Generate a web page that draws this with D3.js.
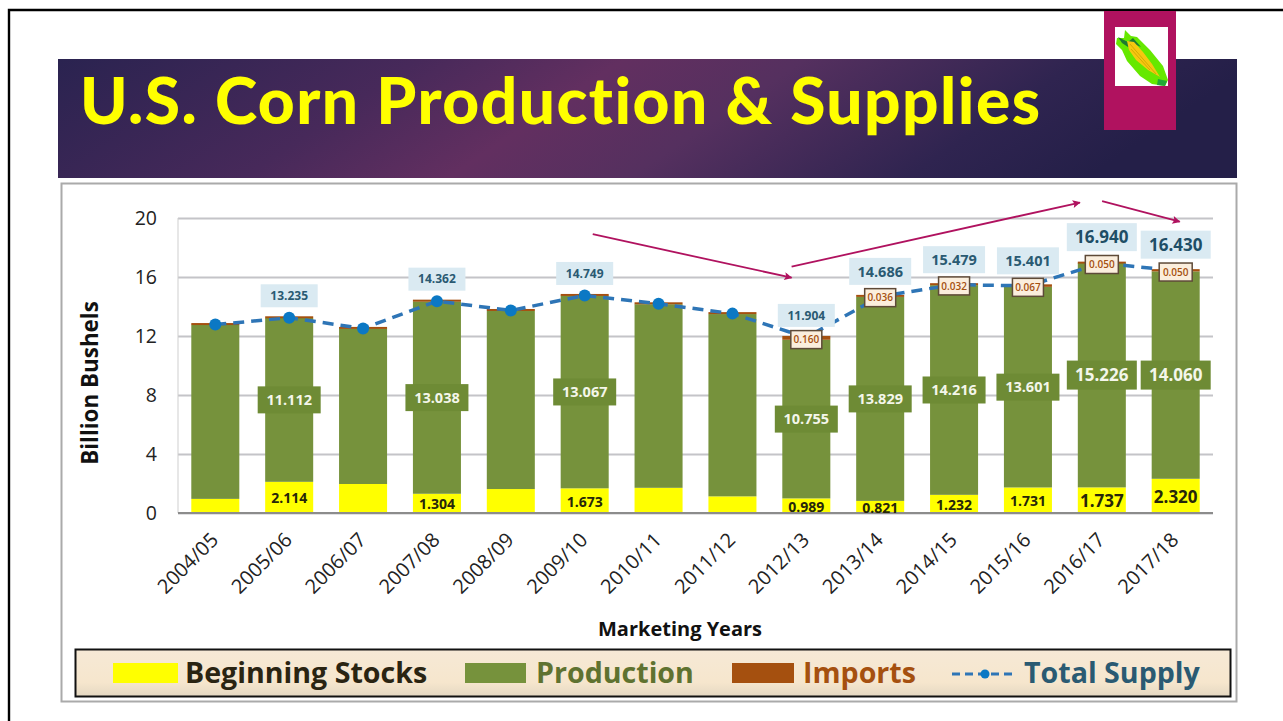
<!DOCTYPE html>
<html><head><meta charset="utf-8">
<script src="https://cdn.jsdelivr.net/npm/d3@7/dist/d3.min.js"></script>
<style>html,body{margin:0;padding:0;background:#fff;overflow:hidden}svg{display:block}text{font-family:"Open Sans",sans-serif}</style>
</head><body><svg id="c" width="1283" height="721"></svg>
<script>
const years=["2004/05","2005/06","2006/07","2007/08","2008/09","2009/10","2010/11","2011/12","2012/13","2013/14","2014/15","2015/16","2016/17","2017/18"];
const beginningStocks=[0.958,2.114,1.967,1.304,1.624,1.673,1.708,1.128,0.989,0.821,1.232,1.731,1.737,2.320];
const production=[11.807,11.112,10.535,13.038,12.092,13.067,12.447,12.360,10.755,13.829,14.216,13.601,15.226,14.060];
const imports=[0.011,0.009,0.012,0.020,0.014,0.008,0.028,0.029,0.160,0.036,0.032,0.067,0.050,0.050];
const totalSupply=[12.776,13.235,12.514,14.362,13.730,14.749,14.183,13.517,11.904,14.686,15.479,15.401,16.940,16.430];
const labelledYears=["2005/06","2007/08","2009/10","2012/13","2013/14","2014/15","2015/16","2016/17","2017/18"];
const importLabelledYears=["2012/13","2013/14","2014/15","2015/16","2016/17","2017/18"];
const yTicks=[0,4,8,12,16,20];
const seriesNames=["Beginning Stocks","Production","Imports","Total Supply"];
const title="U.S. Corn Production & Supplies";
const yTitle="Billion Bushels", xTitle="Marketing Years";
// trend arrows: [from band position, from value, to band position, to value]
const trendArrows=[[5.61,18.9,8.3,15.95],[8.3,16.7,12.2,21.05],[12.5,21.15,13.55,19.75]];

const svg=d3.select("#c");
const defs=svg.append("defs");
const hg=defs.append("linearGradient").attr("id","hdr").attr("x2",1).attr("y2",0.15);
[[0,"#2a2350"],[0.3,"#47295a"],[0.47,"#622f60"],[0.62,"#55305f"],[0.85,"#2f2450"],[1,"#241f48"]].forEach(s=>hg.append("stop").attr("offset",s[0]).attr("stop-color",s[1]));
const lg=defs.append("linearGradient").attr("id","leg").attr("x2",0).attr("y2",1);
[[0,"#f6e9d6"],[0.7,"#f6e6cd"],[1,"#e4d8c2"]].forEach(s=>lg.append("stop").attr("offset",s[0]).attr("stop-color",s[1]));
const mk=defs.append("marker").attr("id","ah").attr("viewBox","0 0 10 10").attr("refX",9).attr("refY",5)
 .attr("markerWidth",9).attr("markerHeight",8).attr("markerUnits","userSpaceOnUse").attr("orient","auto");
mk.append("path").attr("d","M0,0L10,5L0,10L2,5Z").attr("fill","#b0125f");

// slide frame
svg.append("path").attr("d","M1283,10H9V721").attr("stroke","#000").attr("stroke-width",2.4).attr("fill","none");
// header
svg.append("rect").attr("x",58).attr("y",59).attr("width",1179).attr("height",119).attr("fill","url(#hdr)");
svg.append("text").attr("x",80).attr("y",124).attr("fill","#ffff00").attr("font-size",64).attr("font-weight",900)
 .style("font-family","Lato").style("font-variant-ligatures","none").attr("textLength",960).attr("lengthAdjust","spacing").text(title);
// badge + corn
svg.append("rect").attr("x",1104).attr("y",11).attr("width",72).attr("height",119).attr("fill","#b0125f");
svg.append("rect").attr("x",1115).attr("y",27).attr("width",53).attr("height",59).attr("fill","#fff");
const corn=svg.append("g");
corn.append("path").attr("d","M1117,38L1124,38L1125,30L1131,36L1137,37L1150,50L1163,66L1168,80L1165,86L1152,84L1140,76L1127,61L1122,50L1116,44Z").attr("fill","#66e800");
corn.append("path").attr("d","M1118,37L1128,42L1133,38L1141,47L1134,44L1128,47L1122,43Z").attr("fill","#1e7a30");
corn.append("path").attr("d","M1127,41L1134,42L1143,52L1152,64L1160,77L1148,70L1136,60L1129,50Z").attr("fill","#f5c810");
corn.append("path").attr("d","M1130,44L1156,74M1131,49L1150,70").attr("stroke","#c99a00").attr("stroke-width",0.7).attr("fill","none");
corn.append("path").attr("d","M1158,79L1167,81L1165,86L1157,85Z").attr("fill","#22a838");

// chart panel
svg.append("rect").attr("x",61.5).attr("y",183.5).attr("width",1175).attr("height",518).attr("fill","#fff").attr("stroke","#aaa").attr("stroke-width",2);

const x=d3.scaleBand().domain(years).range([178,1213]).paddingInner(0.35).paddingOuter(0.18);
const y=d3.scaleLinear().domain([0,20]).range([513,218]);
const bandPos=d3.scaleLinear().domain([0,years.length]).range([178,1213]);
const cx=d=>x(d)+x.bandwidth()/2;

// grid
svg.append("g").call(d3.axisLeft(y).tickValues(yTicks).tickSize(-1035).tickPadding(0).tickFormat(""))
 .attr("transform","translate(178,0)")
 .call(g=>g.select(".domain").remove())
 .call(g=>g.selectAll("line").attr("stroke","#c4c4c8").attr("stroke-width",2));
svg.append("line").attr("x1",178).attr("x2",178).attr("y1",y(20)).attr("y2",y(0)).attr("stroke","#cfcfcf").attr("stroke-width",1);

// bars
const rows=years.map((d,i)=>({year:d,i,s:beginningStocks[i],p:production[i],m:imports[i],t:totalSupply[i]}));
const barW=x.bandwidth();
const colors={s:"#ffff00",p:"#76923c",m:"#a5500f"};
const bars=svg.append("g");
bars.selectAll(".bs").data(rows).join("rect").attr("x",d=>x(d.year)).attr("width",barW)
 .attr("y",d=>y(d.s)).attr("height",d=>y(0)-y(d.s)).attr("fill",colors.s);
bars.selectAll(".bp").data(rows).join("rect").attr("x",d=>x(d.year)).attr("width",barW)
 .attr("y",d=>y(d.s+d.p)).attr("height",d=>y(d.s)-y(d.s+d.p)).attr("fill",colors.p);
bars.selectAll(".bm").data(rows).join("rect").attr("x",d=>x(d.year)).attr("width",barW)
 .attr("y",d=>y(d.t)-1.5).attr("height",d=>Math.max(y(d.s+d.p)-y(d.t)+1.5,2)).attr("fill",colors.m);
svg.append("line").attr("x1",178).attr("x2",1213).attr("y1",y(0)).attr("y2",y(0)).attr("stroke","#8c8c8c").attr("stroke-width",2);

// total supply line
svg.append("path").datum(rows).attr("fill","none").attr("stroke","#2e75b6").attr("stroke-width",3.5).attr("stroke-dasharray","11 7")
 .attr("d",d3.line().x(d=>cx(d.year)).y(d=>y(d.t)));
svg.append("g").selectAll("circle").data(rows).join("circle").attr("cx",d=>cx(d.year)).attr("cy",d=>y(d.t)).attr("r",6).attr("fill","#0b78c4");

// size tier by year position
const tier=i=>i>=12?2:(i>=9?1:0);
function boxLabel(g,cxv,cyv,w,h,fill,stroke,txt,color,fs,wt){
 const a=g.append("g");
 if(fill) a.append("rect").attr("x",cxv-w/2).attr("y",cyv-h/2).attr("width",w).attr("height",h).attr("fill",fill).attr("stroke",stroke||"none").attr("stroke-width",stroke?1.5:0);
 a.append("text").attr("x",cxv).attr("y",cyv).attr("dy","0.36em").attr("text-anchor","middle").attr("fill",color).attr("font-size",fs).attr("font-weight",wt||700).text(txt);
}
const lab=svg.append("g");
rows.filter(d=>importLabelledYears.includes(d.year)).forEach(d=>{
 boxLabel(lab,cx(d.year),y(d.t-d.m/2)+1,d.i>=12?33:31,18,"#fbeedd","#5e4a38",d.m.toFixed(3),"#a5500f",10,600);
});
rows.filter(d=>labelledYears.includes(d.year)).forEach(d=>{
 const k=tier(d.i);
 boxLabel(lab,cx(d.year),y(d.t)-[22,25,26][k],[57,62,70][k],[23,27,28][k],"#daeaf2",null,d.t.toFixed(3),k==2?"#1f4e66":"#2a5a72",[12,14.5,17][k]);
 boxLabel(lab,cx(d.year),y(d.s+d.p/2),[63,63,70][k],[27,27,29][k],"#6e8b35",null,d.p.toFixed(3),"#f4f6ea",[14.5,14.5,17][k]);
 boxLabel(lab,cx(d.year),y(d.s/2)+1,0,0,null,null,d.s.toFixed(3),"#26260a",[14,14,17][k]);
});

// axes
svg.append("g").attr("transform","translate(178,0)").call(d3.axisLeft(y).tickValues(yTicks).tickSize(0).tickPadding(21))
 .call(g=>g.select(".domain").remove())
 .call(g=>g.selectAll("text").attr("font-size",19.5).attr("fill","#222").style("font-family","'Open Sans'"));
svg.append("g").attr("transform","translate(0,513)").call(d3.axisBottom(x).tickSize(0))
 .call(g=>g.select(".domain").remove())
 .call(g=>g.selectAll("text").attr("font-size",20).attr("fill","#222").attr("text-anchor","end").attr("dy",null)
   .attr("transform","translate(0,24) rotate(-45)").attr("y",6).attr("x",0).style("font-family","'Open Sans'"));
svg.append("text").attr("transform","translate(98,383) rotate(-90)").attr("text-anchor","middle").attr("font-size",22.4).attr("font-weight",700).attr("fill","#111").text(yTitle);
svg.append("text").attr("x",680).attr("y",636).attr("text-anchor","middle").attr("font-size",20).attr("font-weight",700).attr("fill","#111").text(xTitle);

// arrows
svg.append("g").selectAll("line").data(trendArrows).join("line")
 .attr("x1",d=>bandPos(d[0])).attr("y1",d=>y(d[1])).attr("x2",d=>bandPos(d[2])).attr("y2",d=>y(d[3]))
 .attr("stroke","#b0125f").attr("stroke-width",1.8).attr("marker-end","url(#ah)");

// legend
svg.append("rect").attr("x",75.5).attr("y",649.5).attr("width",1155).attr("height",47).attr("fill","url(#leg)").attr("stroke","#111").attr("stroke-width",2);
const legendLayout=[{sx:113,sw:65,tx:185,c:"#ffff00",tc:"#2a2412"},{sx:465,sw:61,tx:536,c:"#76923c",tc:"#5f7230"},{sx:732,sw:62,tx:803,c:"#a5500f",tc:"#a5500f"}];
legendLayout.forEach((l,i)=>{
 svg.append("rect").attr("x",l.sx).attr("y",663).attr("width",l.sw).attr("height",20).attr("fill",l.c);
 svg.append("text").attr("x",l.tx).attr("y",683).attr("font-size",28.6).attr("font-weight",700).attr("fill",l.tc).text(seriesNames[i]);
});
svg.append("line").attr("x1",952).attr("x2",1015).attr("y1",674).attr("y2",674).attr("stroke","#2e75b6").attr("stroke-width",3).attr("stroke-dasharray","8 5");
svg.append("circle").attr("cx",985).attr("cy",674).attr("r",4.5).attr("fill","#0b78c4");
svg.append("text").attr("x",1024).attr("y",683).attr("font-size",28.6).attr("font-weight",700).attr("fill","#2a5a72").text(seriesNames[3]);
</script></body></html>
